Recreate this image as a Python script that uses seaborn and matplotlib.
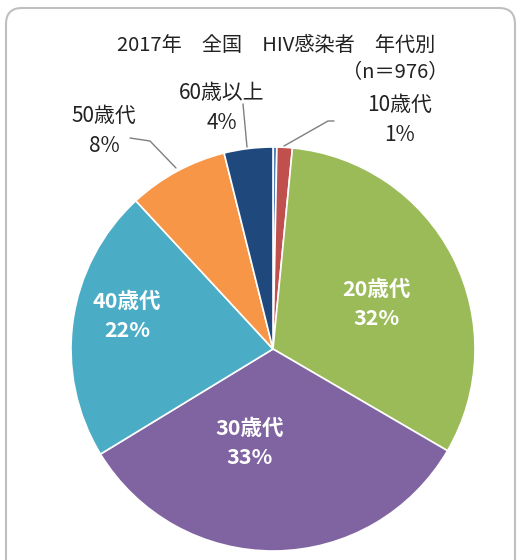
import matplotlib
matplotlib.use("Agg")
import matplotlib.pyplot as plt
from matplotlib.patches import FancyBboxPatch
import seaborn as sns

sns.set_theme(style="white")
plt.rcParams['font.family'] = ['Noto Sans CJK JP', 'DejaVu Sans']

# age groups, clockwise from 12 o'clock (first one is the unlabeled sliver)
groups = ["不明", "10歳代", "20歳代", "30歳代", "40歳代", "50歳代", "60歳以上"]
counts = [3, 12, 311, 321, 213, 78, 38]
pcts = ["", "1%", "32%", "33%", "22%", "8%", "4%"]
colors = ["#4F81BD", "#C0504D", "#9BBB59", "#8064A2", "#4BACC6", "#F79646", "#1F497D"]

W, H = 519, 560
fig = plt.figure(figsize=(W / 100, H / 100), dpi=100)
ax = fig.add_axes([0, 0, 1, 1])

cx, cy, r = 273, H - 349, 202
wedges, _ = ax.pie(counts, colors=colors, startangle=90, counterclock=False,
                   center=(cx, cy), radius=r,
                   wedgeprops=dict(edgecolor="white", linewidth=1.2))

ax.set_xlim(0, W)
ax.set_ylim(0, H)
ax.set_aspect("equal")
ax.axis("off")

# rounded frame (bottom runs off the image)
box = FancyBboxPatch((6, -40), 509, 592,
                     boxstyle="round,pad=0,rounding_size=16",
                     fc="none", ec="#BFBFBF", lw=1.5, clip_on=False)
ax.add_patch(box)

def Y(y):
    return H - y

ax.text(276, Y(45), "2017年　全国　HIV感染者　年代別", ha="center", va="center",
        fontsize=14.5, color="#222222")
ax.text(395, Y(73), "（n＝976）", ha="center", va="center", fontsize=14.5, color="#222222")

# inside labels
inside = {2: (376, 304), 3: (250, 443), 4: (127, 316)}
for i, (x, y) in inside.items():
    ax.text(x, Y(y), groups[i] + "\n" + pcts[i], ha="center", va="center",
            fontsize=15.5, fontweight="bold", color="white", linespacing=1.45)

# outside labels with leader lines
outside = {1: (400, 120), 5: (104, 131), 6: (222, 108)}
for i, (x, y) in outside.items():
    ax.text(x, Y(y), groups[i] + "\n" + pcts[i], ha="center", va="center",
            fontsize=15, color="#222222", linespacing=1.45)

lines = [
    [(284, 146), (328, 121), (334, 121)],
    [(176, 168), (150, 141), (130, 138)],
    [(247, 147), (243, 104)],
]
for pts in lines:
    ax.plot([p[0] for p in pts], [Y(p[1]) for p in pts], color="#7F7F7F", lw=1)

fig.savefig("out.png", dpi=100)
